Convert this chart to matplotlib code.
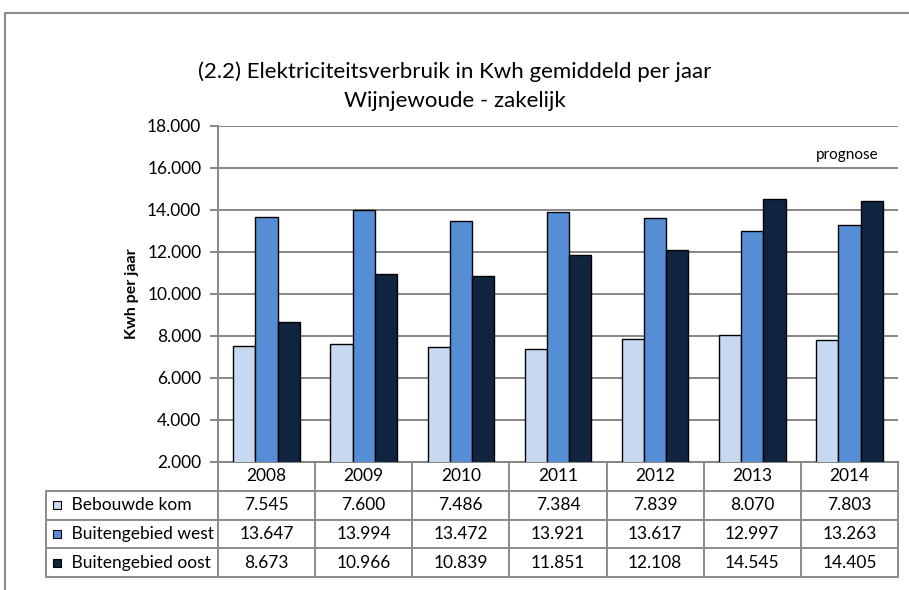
import numpy as np
import matplotlib
matplotlib.use('Agg')
import matplotlib.pyplot as plt
from matplotlib.patches import Rectangle
from matplotlib.ticker import FuncFormatter, MultipleLocator

plt.rcParams['font.family'] = ['Lato', 'DejaVu Sans']

years = ['2008', '2009', '2010', '2011', '2012', '2013', '2014']
series_names = ['Bebouwde kom', 'Buitengebied west', 'Buitengebied oost']
bebouwde_kom = [7545, 7600, 7486, 7384, 7839, 8070, 7803]
buitengebied_west = [13647, 13994, 13472, 13921, 13617, 12997, 13263]
buitengebied_oost = [8673, 10966, 10839, 11851, 12108, 14545, 14405]
colors = ['#C6D9F1', '#558ED5', '#10243F']

GRID = '#878787'


def nl(v):
    return f"{v:,.0f}".replace(',', '.')


W, H = 909, 590
fig = plt.figure(figsize=(W / 100, H / 100), dpi=100)

# chart frame (cut off at right and bottom)
fig.patches.append(Rectangle((5 / W, -0.1), 1.2, 1.1 - 13 / H, transform=fig.transFigure,
                             fill=False, edgecolor='#8C8C8C', linewidth=1.5))

# plot area in pixels: x 218..898, y 126..462
ax = fig.add_axes([218 / W, 1 - 462 / H, 680 / W, 336 / H])

x = np.arange(len(years))
bw = 0.228
all_series = [bebouwde_kom, buitengebied_west, buitengebied_oost]
for i, (vals, col) in enumerate(zip(all_series, colors)):
    ax.bar(x + (i - 1) * bw, vals, width=bw, color=col, edgecolor='black',
           linewidth=1.0, zorder=3)

ax.set_xlim(-0.5, len(years) - 0.5)
ax.set_ylim(2000, 18000)
ax.yaxis.set_major_locator(MultipleLocator(2000))
ax.yaxis.set_major_formatter(FuncFormatter(lambda v, p: nl(v)))
ax.set_xticks([])
ax.grid(axis='y', color=GRID, linewidth=1.4, zorder=0)
for s in ['top', 'right']:
    ax.spines[s].set_visible(False)
ax.spines['left'].set_color(GRID)
ax.spines['bottom'].set_color(GRID)
ax.spines['left'].set_linewidth(1.4)
ax.spines['bottom'].set_linewidth(1.4)
ax.tick_params(axis='y', length=6, width=1.4, color=GRID, labelsize=12.5, pad=6)
ax.set_ylabel('Kwh per jaar', fontsize=11.5, fontweight='bold', labelpad=6)

ax.text(6.3, 16600, 'prognose', fontsize=11, ha='right', va='center')

# data table below the plot
cell_text = [[''] + years]
for name, vals in zip(series_names, all_series):
    cell_text.append(['     ' + name] + [nl(v) for v in vals])
colw = [172] + [680 / 7] * 7
tbl = ax.table(cellText=cell_text, colWidths=colw, cellLoc='center',
               bbox=[-172 / 680, -115 / 336, 852 / 680, 115 / 336])
tbl.auto_set_font_size(False)
tbl.set_fontsize(12.5)
for (r, c), cell in tbl.get_celld().items():
    cell.set_edgecolor('#8C8C8C')
    cell.set_linewidth(1.4)
    if r == 0 and c == 0:
        cell.visible_edges = ''
    if c == 0:
        cell.get_text().set_ha('left')
        cell._loc = 'left'
        cell.PAD = 0.02

# legend keys in the table
for i, col in enumerate(colors):
    yc = 505 + i * 29
    fig.patches.append(Rectangle((53 / W, 1 - (yc + 4) / H), 8 / W, 8 / H,
                                 transform=fig.transFigure, facecolor=col,
                                 edgecolor='black', linewidth=0.8))

fig.text(455 / W, 1 - 72 / H, '(2.2) Elektriciteitsverbruik in Kwh gemiddeld per jaar',
         ha='center', va='center', fontsize=16)
fig.text(455 / W, 1 - 101 / H, 'Wijnjewoude - zakelijk',
         ha='center', va='center', fontsize=16)

fig.savefig('out.png', dpi=100)
